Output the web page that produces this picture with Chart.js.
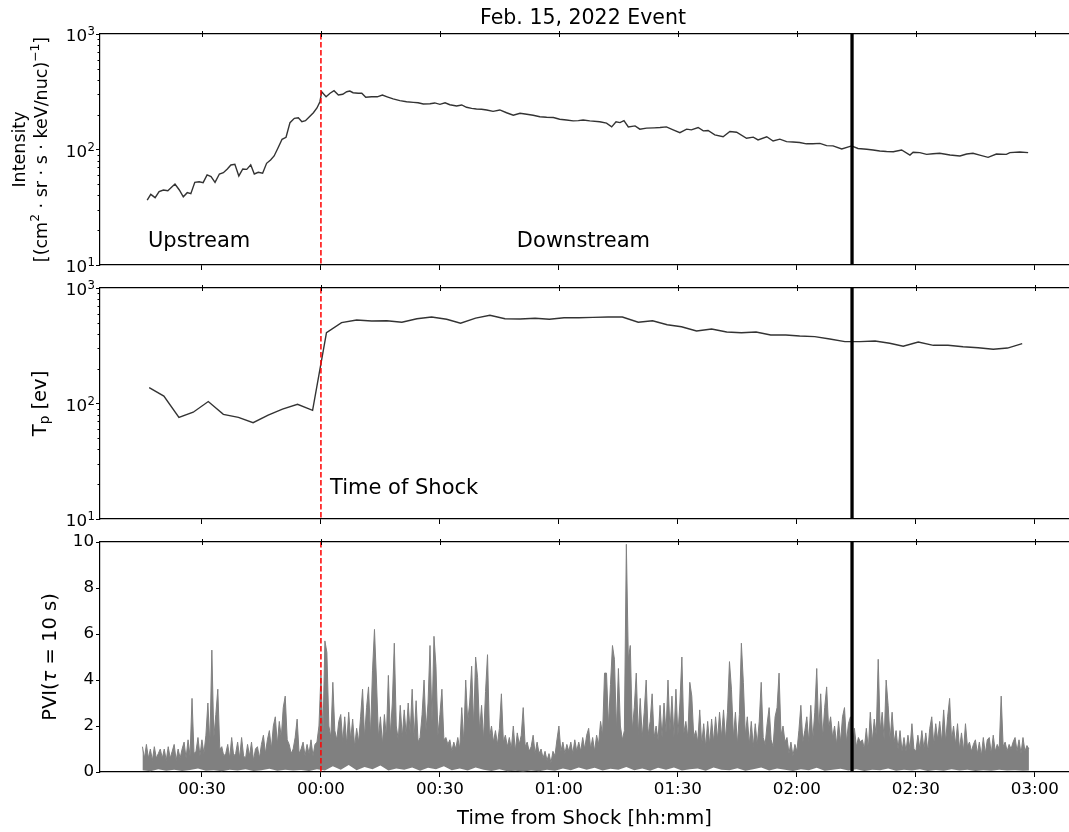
<!DOCTYPE html>
<html>
<head>
<meta charset="utf-8">
<script src="https://cdn.jsdelivr.net/npm/chart.js@4.4.1/dist/chart.umd.min.js"></script>
<style>
  html, body { margin: 0; padding: 0; background: #fff; }
  #wrap { position: relative; width: 1069px; height: 832px; }
  #wrap canvas { position: absolute; left: 0; top: 0; }
</style>
</head>
<body>
<div id="wrap">
  <canvas id="cInt" width="1069" height="832"></canvas>
  <canvas id="cTp" width="1069" height="832"></canvas>
  <canvas id="cPvi" width="1069" height="832"></canvas>
</div>
<script>
// minutes from shock
const intTime = [-43.8,-42.9,-41.8,-40.8,-39.7,-38.6,-37.8,-36.8,-35.7,-34.7,-33.7,-32.8,-31.8,-30.7,-29.7,-28.7,-27.7,-26.7,-25.6,-24.6,
  -23.6,-22.7,-21.7,-20.7,-19.7,-18.7,-17.7,-16.8,-15.8,-14.7,-13.7,-12.7,-11.8,-10.8,-9.8,-8.8,-7.8,-6.7,-5.7,-4.8,
  -3.9,-2.9,-1.9,-1.0,-0.25,0.2,1.3,2.3,3.3,4.4,5.5,6.5,7.3,8.1,9.4,10.3,11.3,12.8,14.2,15.5,
  16.7,18.2,19.9,21.6,23.3,24.5,25.8,27.5,28.7,30.0,31.3,32.5,34.2,35.5,36.7,38.0,39.2,40.5,41.8,43.4,
  45.1,46.8,48.5,50.2,51.9,53.5,55.2,56.9,58.6,60.2,61.9,63.6,64.9,66.1,67.8,70.3,72.0,73.3,74.4,75.4,
  76.4,77.5,79.2,80.4,82.1,84.0,85.5,87.1,88.8,90.5,92.2,93.4,95.1,96.4,97.6,99.3,101.4,103.1,104.8,107.3,
  109.0,110.2,112.4,114.0,115.7,117.4,119.0,120.7,122.4,124.0,125.8,127.5,129.1,131.3,133.8,135.4,137.6,139.2,140.9,142.6,
  144.3,146.4,148.5,149.3,151.0,152.7,154.3,156.0,158.6,161.1,162.8,164.4,166.1,168.2,170.3,172.8,173.7,176.2,178.3];
const intFlux = [36.5,40.9,38.3,43.2,44.6,44.0,46.7,50.2,44.6,39.0,42.3,41.4,52.0,52.6,51.6,60.2,58.2,52.0,61.4,63.0,
  67.8,73.4,74.4,59.0,67.8,67.3,73.8,61.4,63.5,62.3,75.9,81.1,87.9,103.7,122.5,127.6,170.7,186.2,188.5,174.2,
  177.6,192.3,208.3,228.7,259.4,316.6,286.4,306.7,322.9,296.5,300.6,316.6,320.6,310.3,306.7,307,283,286,286,296,
  286,274,265,259,256,254,248,249,253,246,254,244,238,243,232,227,224,223,220,214,
  220,208,198,206,202,198,192,190,189,183,180,177,178,180,177,174,169,157,174,171,
  178,157,160,150,153,154,155,157,148,140,150,148,155,145,146,134,129,143,141,125,
  128,121,129,118.5,123,117,116,115,112,112,113,108,107.5,101,107.5,102,100.4,99,97,96,
  95.7,99,89.5,94.6,94,90.8,92,92.7,89.5,87.9,91.4,92.7,89.5,85.5,91.4,90.8,94,95,94];

const tpTime = [-43.3,-39.6,-35.8,-32.2,-28.4,-24.6,-20.8,-17.1,-13.3,-9.7,-5.9,-2.1,1.4,5.2,9.0,12.8,16.6,20.4,24.2,27.9,
  31.7,35.2,39.0,42.6,46.4,50.2,54.0,57.6,61.3,65.0,68.6,72.4,76.0,80.0,83.6,87.3,90.9,94.7,98.5,102.3,
  106.0,109.7,113.4,117.2,120.7,124.5,128.3,132.1,135.9,139.7,143.4,146.8,150.6,154.4,158.1,161.9,165.7,169.5,173.1,176.8];
const tpTemp = [137,116,75.9,84,104,80.6,75.9,68.2,79.4,89.5,98.4,87.3,410,501,529,518,521,505,542,561,
  536,495,549,580,542,539,547,536,553,553,557,561,561,505,521,481,462,424,442,416,
  410,416,392,392,384,379,362,343,343,348,332,313,341,319,319,310,304,295,302,330];

// PVI upper envelope, one value per half minute from -45 min
const pviStart = -45, pviStep = 0.5;
const pviHigh = [
  1.1,0.6,1.2,0.6,1.0,0.5,1.1,0.6,0.8,1.0,
  0.6,1.0,0.5,1.1,0.6,0.9,1.2,0.5,1.0,0.6,
  1.0,1.3,0.6,1.4,0.7,3.2,0.8,0.9,1.5,0.7,
  1.4,0.8,1.6,3.0,1.2,5.3,1.5,2.5,3.6,1.0,
  1.1,0.7,0.8,1.2,0.6,1.5,0.7,0.8,1.3,0.6,
  1.5,0.7,0.6,1.2,0.7,1.3,0.5,1.0,1.1,0.6,
  1.2,1.6,0.8,1.4,1.8,1.0,2.0,2.4,1.2,2.2,
  1.5,2.8,3.3,1.4,1.2,0.8,1.0,1.5,2.3,0.8,
  1.0,1.3,0.7,1.2,0.8,1.4,0.7,1.2,1.3,2.0,
  4.2,1.6,5.7,5.2,2.0,1.5,3.9,1.8,1.4,2.2,
  2.5,1.3,2.4,1.2,2.6,1.4,2.3,1.1,1.9,1.3,
  2.4,3.6,1.5,2.8,3.7,1.6,4.4,6.2,4.0,1.5,
  2.4,1.2,2.5,1.5,4.2,1.6,3.0,5.6,2.0,1.4,
  2.9,1.5,2.7,1.6,3.0,1.7,3.6,1.5,3.1,1.3,
  1.5,2.5,4.0,1.8,3.0,5.5,2.2,5.9,4.6,1.6,
  2.5,3.6,1.4,1.5,1.2,1.4,0.9,1.3,1.0,1.5,
  1.0,2.8,1.3,4.0,2.2,3.0,4.6,2.0,5.0,4.1,
  1.8,2.9,1.4,3.5,5.1,1.5,2.0,1.3,1.8,1.2,
  1.9,3.4,1.3,1.6,1.1,1.5,1.0,2.0,0.9,1.7,
  1.2,1.6,2.8,1.1,1.3,0.9,1.1,1.6,0.8,1.3,
  0.8,1.0,0.6,0.9,0.5,0.8,0.4,0.9,0.7,1.4,
  2.0,0.9,1.3,0.8,1.2,0.9,1.3,0.8,1.4,0.9,
  1.3,0.9,1.5,1.0,1.6,1.9,1.0,1.5,0.9,1.6,
  1.2,2.2,1.6,4.3,4.3,2.0,3.8,5.5,4.9,1.8,
  4.5,2.0,1.4,1.8,9.9,4.9,5.5,1.8,2.8,4.3,
  1.6,3.2,1.5,2.6,4.0,1.6,2.2,3.4,1.5,2.0,
  1.4,2.9,1.5,3.0,1.7,4.0,1.8,3.3,1.5,3.6,
  1.6,3.0,5.0,1.7,2.2,1.5,3.9,3.3,1.5,1.8,
  1.3,2.7,1.2,2.1,1.1,2.2,1.2,2.3,1.3,2.4,
  1.4,2.6,1.5,2.7,1.4,2.6,4.8,3.6,1.5,2.6,
  1.2,2.5,5.6,3.9,1.6,2.4,1.2,2.2,1.1,2.1,
  1.2,2.2,3.9,1.5,1.2,2.1,2.8,1.4,1.1,2.4,
  2.8,4.3,1.6,2.0,1.3,1.5,0.8,1.3,0.7,1.2,
  0.9,1.8,2.9,1.3,1.8,2.4,1.3,2.9,1.4,2.6,
  4.5,1.8,3.4,1.5,2.8,3.7,1.9,2.4,1.5,2.0,
  1.2,2.2,1.3,2.4,2.8,1.3,2.1,2.4,1.1,1.9,
  1.1,1.5,1.3,1.4,1.0,1.9,1.0,2.6,1.3,2.3,
  1.6,4.9,1.8,2.6,1.4,4.0,2.9,1.4,2.6,1.3,
  1.8,1.0,1.8,0.9,1.5,0.9,1.6,1.0,2.1,1.0,
  0.9,1.6,1.0,1.8,1.0,1.7,0.9,1.9,2.4,1.2,
  2.1,1.4,2.2,1.3,2.7,1.3,2.4,3.2,1.4,2.0,
  1.2,2.1,1.0,1.7,0.9,2.1,1.1,1.3,0.9,1.2,
  1.4,0.8,1.3,0.7,1.5,0.8,1.4,1.5,0.8,1.6,
  0.9,1.2,1.0,3.3,1.1,1.3,0.9,1.2,1.0,1.3,
  1.5,0.9,1.4,0.8,1.5,0.9,1.15,1.0];
// PVI lower envelope, every 2 min from -45 min
const pviLowStart = -45, pviLowStep = 2;
const pviLow = [0.08,0.03,0.12,0.05,0.1,0.04,0.09,0.15,0.05,0.08,0.03,0.1,0.06,0.12,0.04,0.08,0.14,0.05,0.1,0.06,
  0.09,0.04,0.12,0.06,0.25,0.1,0.3,0.08,0.22,0.12,0.28,0.06,0.15,0.1,0.2,0.05,0.18,0.12,0.25,0.08,
  0.15,0.06,0.2,0.1,0.04,0.12,0.03,0.05,0.02,0.06,0.03,0.1,0.05,0.15,0.08,0.2,0.1,0.18,0.06,0.14,
  0.1,0.22,0.08,0.15,0.05,0.18,0.1,0.2,0.06,0.12,0.15,0.05,0.2,0.1,0.08,0.16,0.05,0.12,0.2,0.07,
  0.15,0.1,0.04,0.12,0.08,0.18,0.05,0.1,0.14,0.06,0.12,0.04,0.1,0.08,0.15,0.05,0.1,0.06,0.12,0.04,
  0.09,0.05,0.12,0.06,0.1,0.04,0.08,0.05,0.1,0.06,0.08,0.05,0.07];

const shockTime = 0;
const boundaryTime = 133.9;
const xTickValues = [-30, 0, 30, 60, 90, 120, 150, 180];
const xTickLabels = ['00:30', '00:00', '00:30', '01:00', '01:30', '02:00', '02:30', '03:00'];
const logTickValues = [10, 100, 1000];
const logTickExp = ['1', '2', '3'];
const pviTickValues = [0, 2, 4, 6, 8, 10];
const pviTickLabels = ['0', '2', '4', '6', '8', '10'];

const FONT = 'DejaVu Sans';
const X_MIN = -55.7, X_MAX = 188.6;

function pts(ts, vs) { return ts.map((t, i) => ({x: t, y: vs[i]})); }
function cadence(t0, dt, vs) { return vs.map((v, i) => ({x: t0 + i * dt, y: v})); }

function richRotated(ctx, cx, cy, parts) {
  ctx.save();
  ctx.translate(cx, cy);
  ctx.rotate(-Math.PI / 2);
  let w = 0;
  parts.forEach(p => { ctx.font = p.f; p.w = ctx.measureText(p.t).width; w += p.w; });
  let xx = -w / 2;
  ctx.textBaseline = 'middle';
  ctx.textAlign = 'left';
  ctx.fillStyle = '#000';
  parts.forEach(p => { ctx.font = p.f; ctx.fillText(p.t, xx, p.dy || 0); xx += p.w; });
  ctx.restore();
}

function decoPlugin(cfg) {
  return {
    id: 'deco',
    afterDatasetsDraw(chart) {
      const {ctx, chartArea: a, scales} = chart;
      const x = scales.x;
      ctx.save();
      ctx.beginPath(); ctx.rect(a.left, a.top, a.right - a.left, a.bottom - a.top); ctx.clip();
      let px = x.getPixelForValue(boundaryTime);
      ctx.strokeStyle = '#000'; ctx.lineWidth = 3.3;
      ctx.beginPath(); ctx.moveTo(px, a.top); ctx.lineTo(px, a.bottom); ctx.stroke();
      px = x.getPixelForValue(shockTime);
      ctx.strokeStyle = '#ff0000'; ctx.lineWidth = 1.5; ctx.setLineDash([5.5, 2.5]);
      ctx.beginPath(); ctx.moveTo(px, a.top); ctx.lineTo(px, a.bottom); ctx.stroke();
      ctx.restore();
    },
    afterDraw(chart) {
      const {ctx, chartArea: a, scales} = chart;
      const x = scales.x, y = scales.y;
      ctx.save();
      ctx.strokeStyle = '#000'; ctx.lineWidth = 1;
      ctx.beginPath();
      xTickValues.forEach(v => {
        const px = Math.round(x.getPixelForValue(v)) + 0.5;
        ctx.moveTo(px, a.top - 3); ctx.lineTo(px, a.top + 3);
      });
      if (cfg.log) {
        for (let d = 10; d < 1000; d *= 10) {
          for (let k = 2; k <= 9; k++) {
            const py = Math.round(y.getPixelForValue(k * d)) + 0.5;
            ctx.moveTo(a.left - 2.5, py); ctx.lineTo(a.left, py);
          }
        }
      }
      ctx.stroke();
      ctx.fillStyle = '#000';
      if (cfg.log) {
        // tick labels as 10 with a raised exponent
        logTickValues.forEach((v, i) => {
          const py = y.getPixelForValue(v);
          ctx.textAlign = 'right';
          ctx.textBaseline = 'alphabetic';
          ctx.font = '11.7px ' + FONT;
          const ew = ctx.measureText(logTickExp[i]).width;
          ctx.fillText(logTickExp[i], a.left - 5, py + 1);
          ctx.font = '16.7px ' + FONT;
          ctx.fillText('10', a.left - 5 - ew - 0.5, py + 7);
        });
      }
      richRotated(ctx, cfg.yTitle.x, (a.top + a.bottom) / 2, cfg.yTitle.parts);
      if (cfg.yTitle2) richRotated(ctx, cfg.yTitle2.x, (a.top + a.bottom) / 2, cfg.yTitle2.parts);
      ctx.fillStyle = '#000';
      ctx.textBaseline = 'alphabetic';
      (cfg.notes || []).forEach(n => {
        ctx.font = n.size + 'px ' + FONT;
        ctx.textAlign = 'left';
        ctx.fillText(n.text, x.getPixelForValue(n.t), y.getPixelForValue(n.v));
      });
      if (cfg.title) {
        ctx.font = '20.5px ' + FONT;
        ctx.textAlign = 'center';
        ctx.fillText(cfg.title, 583, 24);
      }
      ctx.restore();
    }
  };
}

function xScales(top, bottom, labels) {
  return {
    x: {
      type: 'linear', position: 'bottom', min: X_MIN, max: X_MAX,
      afterBuildTicks: s => { s.ticks = xTickValues.map(v => ({value: v})); },
      afterFit: s => { s.height = bottom; },
      grid: { drawOnChartArea: false, drawTicks: true, tickLength: 5, tickColor: '#000', tickWidth: 1 },
      border: { display: true, color: '#000', width: 1.2 },
      ticks: { display: labels, color: '#000', font: { family: FONT, size: 16.7 }, padding: 3,
               maxRotation: 0, autoSkip: false, callback: (v, i) => xTickLabels[i] },
      title: { display: labels, text: 'Time from Shock [hh:mm]', color: '#000',
               font: { family: FONT, size: 19.5 }, padding: { top: 0, bottom: 1 } }
    },
    xTop: {
      type: 'linear', position: 'top', min: X_MIN, max: X_MAX,
      afterFit: s => { s.height = top; },
      grid: { display: false },
      border: { display: true, color: '#000', width: 1.2 },
      ticks: { display: false }
    }
  };
}

function logY() {
  return {
    type: 'logarithmic', min: 10, max: 1000,
    afterBuildTicks: s => { s.ticks = logTickValues.map(v => ({value: v, major: true})); },
    afterFit: s => { s.width = 100; },
    grid: { drawOnChartArea: false, tickLength: 4, tickColor: '#000', tickWidth: 1 },
    border: { display: true, color: '#000', width: 1.2 },
    ticks: { display: false }
  };
}

const common = {
  responsive: false, animation: false, devicePixelRatio: 1, events: [],
  layout: { padding: 0 },
  plugins: { legend: { display: false }, tooltip: { enabled: false } }
};

const f19 = '19.5px ' + FONT, f17 = '17.5px ' + FONT, f12 = '12.3px ' + FONT;

new Chart(document.getElementById('cInt'), {
  type: 'line',
  data: { datasets: [{ data: pts(intTime, intFlux), borderColor: '#333', borderWidth: 1.4,
                       pointRadius: 0, tension: 0, fill: false }] },
  options: Object.assign({}, common, {
    scales: Object.assign(xScales(34, 832 - 265, false), { y: logY() })
  }),
  plugins: [decoPlugin({
    log: true,
    title: 'Feb. 15, 2022 Event',
    yTitle: { x: 20, parts: [{ t: 'Intensity', f: f17 }] },
    yTitle2: { x: 42, parts: [
      { t: '[(cm', f: f17 }, { t: '2', f: f12, dy: -6 },
      { t: ' \u00b7 sr \u00b7 s \u00b7 keV/nuc)', f: f17 }, { t: '\u22121', f: f12, dy: -6 }, { t: ']', f: f17 }] },
    notes: [{ text: 'Upstream', t: -43.6, v: 14.2, size: 21 }, { text: 'Downstream', t: 49.4, v: 14.2, size: 21 }]
  })]
});

new Chart(document.getElementById('cTp'), {
  type: 'line',
  data: { datasets: [{ data: pts(tpTime, tpTemp), borderColor: '#333', borderWidth: 1.4,
                       pointRadius: 0, tension: 0, fill: false }] },
  options: Object.assign({}, common, {
    scales: Object.assign(xScales(288, 832 - 519, false), { y: logY() })
  }),
  plugins: [decoPlugin({
    log: true,
    yTitle: { x: 41, parts: [{ t: 'T', f: f19 }, { t: 'p', f: '13.6px ' + FONT, dy: 4 }, { t: ' [ev]', f: f19 }] },
    notes: [{ text: 'Time of Shock', t: 2.3, v: 16.4, size: 21 }]
  })]
});

new Chart(document.getElementById('cPvi'), {
  type: 'line',
  data: { datasets: [
    { data: cadence(pviStart, pviStep, pviHigh), borderColor: '#808080', borderWidth: 1,
      backgroundColor: '#808080', pointRadius: 0, tension: 0, fill: '+1' },
    { data: cadence(pviLowStart, pviLowStep, pviLow), borderColor: 'rgba(0,0,0,0)', borderWidth: 0,
      pointRadius: 0, tension: 0, fill: false }
  ] },
  options: Object.assign({}, common, {
    scales: Object.assign(xScales(542, 832 - 772, true), {
      y: {
        type: 'linear', min: 0, max: 10,
        afterBuildTicks: s => { s.ticks = pviTickValues.map(v => ({value: v})); },
        afterFit: s => { s.width = 100; },
        grid: { drawOnChartArea: false, tickLength: 4, tickColor: '#000', tickWidth: 1 },
        border: { display: true, color: '#000', width: 1.2 },
        ticks: { color: '#000', font: { family: FONT, size: 16.7 }, padding: 2,
                 callback: (v, i) => pviTickLabels[i] }
      }
    })
  }),
  plugins: [decoPlugin({
    log: false,
    yTitle: { x: 51, parts: [{ t: 'PVI(', f: f19 }, { t: '\u03c4', f: 'italic ' + f19 }, { t: ' = 10 s)', f: f19 }] }
  })]
});
</script>
</body>
</html>
